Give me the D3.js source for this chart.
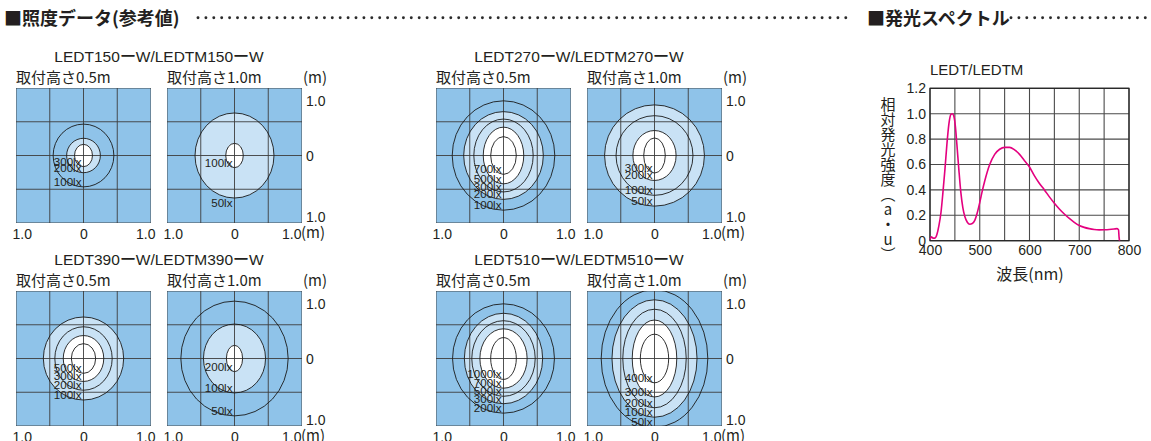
<!DOCTYPE html>
<html>
<head>
<meta charset="utf-8">
<script src="https://cdn.jsdelivr.net/npm/d3@7"></script>
<style>
  body { margin: 0; background: #fff; }
  svg { display: block; }
  text { font-family: "Liberation Sans", Arial, sans-serif; fill: #231f20; }
  .jp { font-family: "Noto Sans CJK JP", sans-serif; }
</style>
</head>
<body>
<svg id="chart" width="1151" height="441"></svg>
<script>
'use strict';

// --- illuminance data ---
var modelNames = [
  'LEDT150ーW/LEDTM150ーW',
  'LEDT270ーW/LEDTM270ーW',
  'LEDT390ーW/LEDTM390ーW',
  'LEDT510ーW/LEDTM510ーW'
];
var mountHeights = ['取付高さ0.5m', '取付高さ1.0m'];

// one entry per panel: model 150 @0.5m, 150 @1.0m, 270 @0.5m ...
var luxLevels = [
  [100, 200, 300],
  [50, 100],
  [100, 200, 300, 500, 700],
  [50, 100, 200, 300],
  [100, 200, 300, 500],
  [50, 100, 200],
  [200, 300, 500, 700, 1000],
  [50, 100, 200, 300, 400]
];
// half widths / half heights of each contour, metres
var radiusX = [
  [0.45, 0.25, 0.133],
  [0.585, 0.13],
  [0.76, 0.59, 0.44, 0.30, 0.19],
  [0.74, 0.57, 0.32, 0.16],
  [0.595, 0.425, 0.30, 0.18],
  [0.795, 0.46, 0.12],
  [0.755, 0.58, 0.47, 0.35, 0.19],
  [0.79, 0.63, 0.47, 0.33, 0.21]
];
var radiusY = [
  [0.465, 0.255, 0.165],
  [0.63, 0.18],
  [0.81, 0.65, 0.54, 0.42, 0.28],
  [0.75, 0.59, 0.37, 0.26],
  [0.615, 0.47, 0.34, 0.22],
  [0.85, 0.51, 0.195],
  [0.81, 0.67, 0.56, 0.44, 0.31],
  [1.02, 0.87, 0.73, 0.57, 0.36]
];
// shade inside each contour: 0 = blue, 1 = pale blue, 2 = white
var bandTone = [
  [0, 1, 2],
  [1, 2],
  [0, 1, 1, 2, 2],
  [1, 1, 2, 2],
  [1, 1, 2, 2],
  [0, 1, 2],
  [0, 1, 1, 2, 2],
  [0, 1, 1, 2, 2]
];
var gridTicks = [-1, -0.5, 0, 0.5, 1];
var axisTicks = [-1, 0, 1];

// --- spectrum data ---
var wavelength = [400, 403, 406, 410, 414, 418, 422, 426, 430, 434, 438, 442, 445, 448, 451, 454, 458, 462, 466, 470,
  475, 480, 485, 490, 495, 500, 505, 510, 520, 530, 540, 550, 560, 570, 580, 590, 600, 610, 620, 630,
  640, 650, 660, 670, 680, 690, 700, 710, 720, 730, 740, 750, 760, 770, 776, 779, 780, 781];
var intensity = [0.01, 0.03, 0.02, 0.02, 0.05, 0.12, 0.22, 0.38, 0.56, 0.76, 0.92, 0.995, 1.0, 0.98, 0.90, 0.76, 0.56, 0.38, 0.26, 0.19,
  0.145, 0.13, 0.135, 0.16, 0.22, 0.30, 0.39, 0.47, 0.60, 0.68, 0.72, 0.735, 0.735, 0.715, 0.68, 0.63, 0.58, 0.51, 0.45, 0.40,
  0.345, 0.295, 0.25, 0.21, 0.175, 0.145, 0.12, 0.105, 0.095, 0.088, 0.085, 0.086, 0.088, 0.092, 0.095, 0.085, 0.03, 0];
var spectrumYTicks = [0, 0.2, 0.4, 0.6, 0.8, 1.0, 1.2];
var spectrumXTicks = [400, 500, 600, 700, 800];

var tones = ['#8fc3e9', '#c9e2f5', '#ffffff'];
var svg = d3.select('#chart');

// section headers with dotted leaders
function header(label, x, dotFrom, dotTo) {
  svg.append('text').attr('class', 'jp')
    .attr('x', x).attr('y', 25)
    .attr('font-size', 18).attr('font-weight', 'bold')
    .text(label);
  svg.append('g').selectAll('circle')
    .data(d3.range(dotFrom, dotTo, 7.9))
    .enter().append('circle')
    .attr('cx', function(d) { return d; })
    .attr('cy', 17.8)
    .attr('r', 1.45)
    .attr('fill', '#2b2b2b');
}
header('■照度データ(参考値)', 4, 198, 853);
header('■発光スペクトル', 867, 1011, 1151);

// --- illuminance panels ---
var size = 135;
modelNames.forEach(function(name, m) {
  var groupX = 16 + (m % 2) * 420,
      top = 88 + Math.floor(m / 2) * 203;

  svg.append('text')
    .attr('x', groupX + 143).attr('y', top - 26.5)
    .attr('text-anchor', 'middle')
    .attr('font-size', 15.5)
    .text(name);

  mountHeights.forEach(function(h, k) {
    var p = m * 2 + k,
        left = groupX + k * 151;
    var x = d3.scaleLinear().domain([-1, 1]).range([left, left + size]);
    var y = d3.scaleLinear().domain([1, -1]).range([top, top + size]);

    svg.append('text').attr('class', 'jp')
      .attr('x', left).attr('y', top - 5)
      .attr('font-size', 15)
      .text(h);

    var clipId = 'clip' + p;
    svg.append('clipPath').attr('id', clipId)
      .append('rect').attr('x', left).attr('y', top).attr('width', size).attr('height', size);

    var g = svg.append('g').attr('clip-path', 'url(#' + clipId + ')');
    g.append('rect')
      .attr('x', left).attr('y', top).attr('width', size).attr('height', size)
      .attr('fill', tones[0]);

    var rings = luxLevels[p].map(function(lx, i) {
      return { lx: lx, rx: radiusX[p][i], ry: radiusY[p][i], tone: bandTone[p][i] };
    });

    // filled bands, outer first
    g.selectAll('ellipse.band').data(rings).enter().append('ellipse')
      .attr('class', 'band')
      .attr('cx', x(0)).attr('cy', y(0))
      .attr('rx', function(d) { return x(d.rx) - x(0); })
      .attr('ry', function(d) { return y(0) - y(d.ry); })
      .attr('fill', function(d) { return tones[d.tone]; });

    // grid
    g.selectAll('line.v').data(gridTicks).enter().append('line')
      .attr('x1', x).attr('x2', x).attr('y1', top).attr('y2', top + size)
      .attr('stroke', '#3d3d3d').attr('stroke-width', 0.9);
    g.selectAll('line.h').data(gridTicks).enter().append('line')
      .attr('y1', y).attr('y2', y).attr('x1', left).attr('x2', left + size)
      .attr('stroke', '#3d3d3d').attr('stroke-width', 0.9);

    // contour lines
    g.selectAll('ellipse.line').data(rings).enter().append('ellipse')
      .attr('cx', x(0)).attr('cy', y(0))
      .attr('rx', function(d) { return x(d.rx) - x(0); })
      .attr('ry', function(d) { return y(0) - y(d.ry); })
      .attr('fill', 'none')
      .attr('stroke', '#1a1a1a').attr('stroke-width', 0.9);

    // contour labels sit on the bottom of each ring
    svg.append('g').selectAll('text').data(rings).enter().append('text')
      .attr('x', x(0) - 2)
      .attr('y', function(d, i) {
        var nudge = (p === 1 && i === 0) ? 10 : 0;
        return y(-d.ry) - 1 + nudge;
      })
      .attr('text-anchor', 'end')
      .attr('font-size', 11.6)
      .attr('fill', '#2a2a2a')
      .text(function(d) { return d.lx + 'lx'; });

    // bottom axis
    var bx = svg.append('g')
      .attr('transform', 'translate(0,' + (top + size) + ')')
      .call(d3.axisBottom(x).tickValues(axisTicks).tickSize(0).tickPadding(3)
        .tickFormat(function(d) { return d === 0 ? '0' : '1.0'; }));
    bx.select('.domain').remove();
    bx.selectAll('text')
      .attr('font-size', 14)
      .attr('font-family', '"Liberation Sans", Arial, sans-serif')
      .attr('fill', '#231f20')
      .attr('dy', '0.95em')
      .attr('text-anchor', function(d) { return d < 0 ? 'start' : (d > 0 ? 'end' : 'middle'); })
      .attr('x', function(d) { return d < 0 ? -4 : (d > 0 ? (k === 1 ? -1 : 4) : 0); });

    if (k === 1) {
      var right = left + size;
      svg.append('text').attr('class', 'jp')
        .attr('x', right - 1).attr('y', top + size + 15)
        .attr('font-size', 15)
        .text('(m)');
      svg.append('text').attr('class', 'jp')
        .attr('x', right + 1).attr('y', top - 5)
        .attr('font-size', 15)
        .text('(m)');

      var ry = svg.append('g')
        .attr('transform', 'translate(' + right + ',0)')
        .call(d3.axisRight(y).tickValues(axisTicks).tickSize(0).tickPadding(4)
          .tickFormat(function(d) { return d === 0 ? '0' : '1.0'; }));
      ry.select('.domain').remove();
      ry.selectAll('text')
        .attr('font-size', 14)
        .attr('font-family', '"Liberation Sans", Arial, sans-serif')
        .attr('fill', '#231f20')
        .attr('dy', function(d) { return d > 0 ? '1.25em' : (d < 0 ? '-0.1em' : '0.35em'); });
    }
  });
});

// --- spectrum chart ---
var sx = d3.scaleLinear().domain([400, 800]).range([930, 1129]);
var sy = d3.scaleLinear().domain([0, 1.2]).range([240.7, 88.3]);

svg.append('text')
  .attr('x', 930).attr('y', 75)
  .attr('font-size', 15)
  .text('LEDT/LEDTM');

svg.append('rect')
  .attr('x', sx(400)).attr('y', sy(1.2))
  .attr('width', sx(800) - sx(400)).attr('height', sy(0) - sy(1.2))
  .attr('fill', '#fff');

svg.append('g').selectAll('line').data(sx.ticks(8)).enter().append('line')
  .attr('x1', sx).attr('x2', sx).attr('y1', sy(0)).attr('y2', sy(1.2))
  .attr('stroke', '#4a4a4a').attr('stroke-width', 1.1);
svg.append('g').selectAll('line').data(spectrumYTicks).enter().append('line')
  .attr('y1', sy).attr('y2', sy).attr('x1', sx(400)).attr('x2', sx(800))
  .attr('stroke', '#4a4a4a').attr('stroke-width', 1.1);
svg.append('rect')
  .attr('x', sx(400)).attr('y', sy(1.2))
  .attr('width', sx(800) - sx(400)).attr('height', sy(0) - sy(1.2))
  .attr('fill', 'none').attr('stroke', '#222').attr('stroke-width', 1.2);

var sxAxis = svg.append('g')
  .attr('transform', 'translate(0,' + sy(0) + ')')
  .call(d3.axisBottom(sx).tickValues(spectrumXTicks).tickSize(0).tickPadding(4));
sxAxis.select('.domain').remove();
sxAxis.selectAll('text')
  .attr('font-size', 14)
  .attr('font-family', '"Liberation Sans", Arial, sans-serif')
  .attr('fill', '#231f20');

var syAxis = svg.append('g')
  .attr('transform', 'translate(' + sx(400) + ',0)')
  .call(d3.axisLeft(sy).tickValues(spectrumYTicks).tickSize(0).tickPadding(4)
    .tickFormat(function(d) { return d === 0 ? '0' : d3.format('.1f')(d); }));
syAxis.select('.domain').remove();
syAxis.selectAll('text')
  .attr('font-size', 14)
  .attr('font-family', '"Liberation Sans", Arial, sans-serif')
  .attr('fill', '#231f20');

var line = d3.line()
  .x(function(d, i) { return sx(wavelength[i]); })
  .y(function(d) { return sy(d); })
  .curve(d3.curveMonotoneX);
svg.append('path')
  .attr('d', line(intensity))
  .attr('fill', 'none')
  .attr('stroke', '#e4007f')
  .attr('stroke-width', 1.6);

svg.append('text').attr('class', 'jp')
  .attr('x', 1030).attr('y', 280)
  .attr('text-anchor', 'middle')
  .attr('font-size', 16)
  .text('波長(nm)');

svg.append('text').attr('class', 'jp')
  .attr('x', 888).attr('y', 97)
  .attr('font-size', 15)
  .style('writing-mode', 'vertical-rl')
  .style('text-orientation', 'upright')
  .text('相対発光強度（a・u）');
</script>
</body>
</html>
